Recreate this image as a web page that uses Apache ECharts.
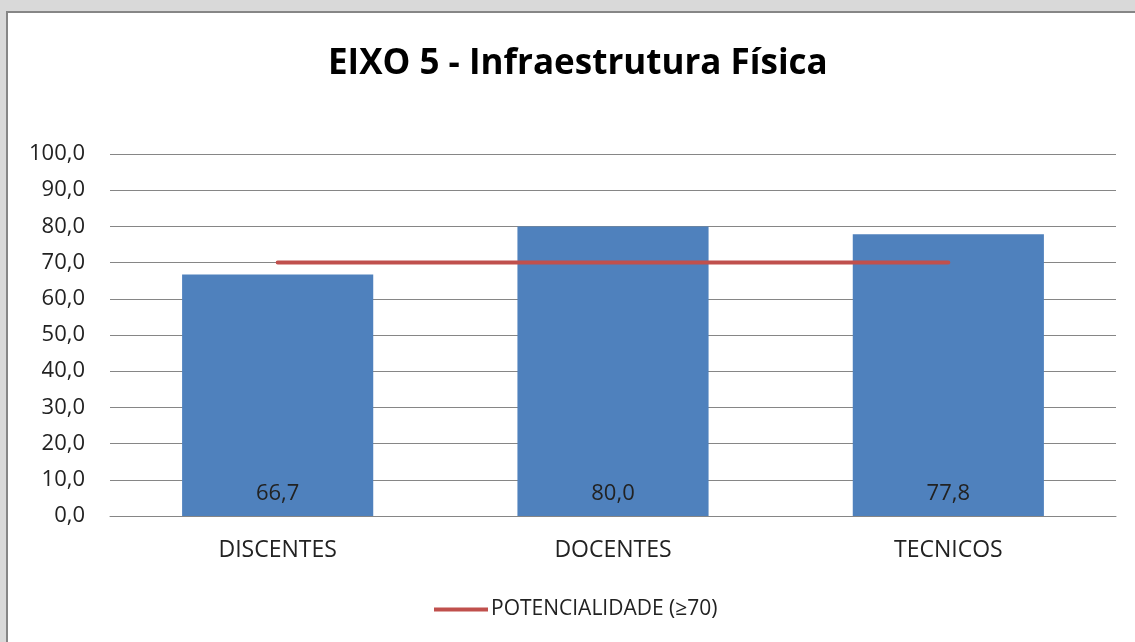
<!DOCTYPE html>
<html>
<head>
<meta charset="utf-8">
<script src="https://cdn.jsdelivr.net/npm/echarts@6/dist/echarts.min.js"></script>
<style>
  html, body { margin: 0; padding: 0; background: #d9d9d9; overflow: hidden; }
  .frame {
    position: absolute; left: 6px; top: 11px; width: 1200px; height: 700px;
    border-left: 2px solid #868686; border-top: 2px solid #868686; background: #fff;
  }
  #chart { position: absolute; left: 8px; top: 13px; width: 1127px; height: 629px; }
</style>
</head>
<body>
<div class="frame"></div>
<div id="chart"></div>
<script>
// dados do grafico
const categorias = ['DISCENTES', 'DOCENTES', 'TECNICOS']
const valores = [66.7, 80.0, 77.8]
const potencialidade = [70, 70, 70]
const nomeLinha = 'POTENCIALIDADE (≥70)'

const fonte = 'Open Sans'
const virgula = v => Number(v).toFixed(1).replace('.', ',')

const myChart = echarts.init(document.getElementById('chart'))
const option = {
  animation: false,
  textStyle: { fontFamily: fonte },
  title: {
    text: 'EIXO 5 - Infraestrutura Física',
    left: 315,
    top: 29,
    textStyle: { fontSize: 35, fontWeight: 'bold', color: '#000', fontFamily: fonte }
  },
  legend: {
    data: [{ name: nomeLinha, icon: 'rect' }],
    left: 421,
    top: 581,
    itemWidth: 54,
    itemHeight: 4,
    itemGap: 4,
    textStyle: { fontSize: 21, color: '#222', padding: [0, 0, 0, -2] }
  },
  grid: { left: 102, right: 19, top: 141, bottom: 126, containLabel: false },
  xAxis: {
    type: 'category',
    data: categorias,
    axisTick: { show: false },
    axisLine: { lineStyle: { color: '#868686', width: 1 } },
    axisLabel: { fontSize: 23, color: '#222', margin: 23 }
  },
  yAxis: {
    type: 'value',
    min: 0,
    max: 100,
    interval: 10,
    axisLine: { show: false },
    axisTick: { show: false },
    splitLine: { lineStyle: { color: '#868686', width: 1 } },
    axisLabel: { fontSize: 22, color: '#222', margin: 25, formatter: v => virgula(v) }
  },
  series: [
    {
      name: 'valores',
      type: 'bar',
      data: valores,
      barWidth: '57%',
      itemStyle: { color: '#4f81bd' },
      label: {
        show: true,
        position: 'insideBottom',
        distance: 11,
        fontSize: 22,
        color: '#222',
        formatter: p => virgula(p.value)
      }
    },
    {
      name: nomeLinha,
      type: 'line',
      data: potencialidade,
      symbol: 'none',
      lineStyle: { color: '#c0504d', width: 4, cap: 'round' },
      itemStyle: { color: '#c0504d' }
    }
  ]
}
myChart.setOption(option)
</script>
</body>
</html>
